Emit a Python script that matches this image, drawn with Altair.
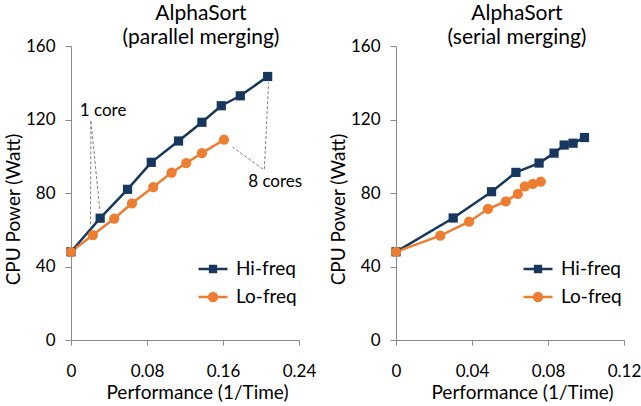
import altair as alt
import pandas as pd

# ---------------- data ----------------
series = ["Hi-freq", "Lo-freq"]
colors = ["#17375E", "#ED7D31"]

par_hi_x = [0, 0.0307, 0.0595, 0.0845, 0.1132, 0.1378, 0.1582, 0.1782, 0.2070]
par_hi_y = [48, 66.3, 82.0, 96.7, 108.3, 118.5, 127.5, 132.9, 143.4]
par_lo_x = [0, 0.0230, 0.0455, 0.0642, 0.0866, 0.1059, 0.1213, 0.1378, 0.1610]
par_lo_y = [48, 57.1, 66.1, 74.4, 83.2, 91.1, 96.3, 101.7, 109.0]

ser_hi_x = [0, 0.0301, 0.0503, 0.0631, 0.0753, 0.0832, 0.0885, 0.0932, 0.0992]
ser_hi_y = [48, 66.4, 80.7, 91.2, 96.3, 101.7, 106.1, 107.1, 110.2]
ser_lo_x = [0, 0.0233, 0.0385, 0.0484, 0.0578, 0.0641, 0.0678, 0.0720, 0.0762]
ser_lo_y = [48, 56.8, 64.4, 71.3, 75.5, 79.5, 83.6, 84.9, 86.2]

y_ticks = [0, 40, 80, 120, 160]
par_x_ticks = [0, 0.08, 0.16, 0.24]
ser_x_ticks = [0, 0.04, 0.08, 0.12]

# annotation leader lines (parallel panel), data units
ann_x = [0.0210, 0.0210, 0.2035, 0.2020]
ann_y = [119.0, 119.0, 93.0, 93.0]
ann_x2 = [0.0305, 0.0205, 0.2080, 0.1700]
ann_y2 = [70.0, 62.0, 140.0, 105.0]
ann_text = ["1 core", "8 cores"]
ann_text_x = [0.0092, 0.1865]
ann_text_y = [124.5, 86.0]

FONT = "Lato"
SQ_PATH = "M-1,0H1M-0.2,-0.2H0.2V0.2H-0.2Z"
CI_PATH = "M-1,0H1M-0.27,0A0.27,0.27,0,1,1,0.27,0A0.27,0.27,0,1,1,-0.27,0Z"


def panel(hx, hy, lx, ly, xmax, xticks, title, dx, annotate):
    df = pd.DataFrame({
        "x": hx + lx,
        "y": hy + ly,
        "series": [series[0]] * len(hx) + [series[1]] * len(lx),
        "order": list(range(len(hx))) + list(range(len(lx))),
    })
    xenc = alt.X("x:Q", scale=alt.Scale(domain=[0, xmax], nice=False, zero=True),
                 axis=alt.Axis(values=xticks, title="Performance (1/Time)",
                               labelExpr="datum.value == 0 ? '0' : format(datum.value, '.2f')",
                               labelFlush=False, tickSize=5, labelPadding=18,
                               titlePadding=4, titleX=126))
    yenc = alt.Y("y:Q", scale=alt.Scale(domain=[0, 160], nice=False),
                 axis=alt.Axis(values=y_ticks, title="CPU Power (Watt)",
                               tickSize=6, labelPadding=10, titlePadding=2,
                               titleY=163))
    base = alt.Chart(df)
    layers = []
    for s, c in zip(series, colors):
        layers.append(base.transform_filter(alt.datum.series == s).mark_line(
            strokeWidth=2.5, color=c).encode(x=xenc, y=yenc, order="order:Q"))
    layers.append(base.transform_filter(alt.datum.series == series[0]).mark_square(
        size=85, opacity=1, color=colors[0]).encode(x=xenc, y=yenc))
    layers.append(base.transform_filter(alt.datum.series == series[1]).mark_circle(
        size=105, opacity=1, color=colors[1]).encode(x=xenc, y=yenc))

    leg = alt.Legend(title=None, orient="none", legendX=126, legendY=207,
                     symbolSize=841, symbolStrokeWidth=2.5, symbolOpacity=1,
                     labelFont=FONT, labelFontSize=19, labelColor="black",
                     labelOffset=7, rowPadding=2, padding=0)
    # zero-size marks that only carry the legend
    layers.append(base.mark_point(filled=True, size=0).encode(
        x=xenc, y=yenc,
        fill=alt.Fill("series:N", scale=alt.Scale(domain=series, range=colors), legend=leg),
        stroke=alt.Stroke("series:N", scale=alt.Scale(domain=series, range=colors), legend=leg),
        shape=alt.Shape("series:N", scale=alt.Scale(domain=series, range=[SQ_PATH, CI_PATH]), legend=leg),
    ))
    if annotate:
        adf = pd.DataFrame({"x": ann_x, "y": ann_y, "x2": ann_x2, "y2": ann_y2})
        rules = alt.Chart(adf).mark_rule(color="#7F7F7F", strokeWidth=1,
                                         strokeDash=[3, 2]).encode(
            x="x:Q", y="y:Q", x2="x2:Q", y2="y2:Q")
        tdf = pd.DataFrame({"x": ann_text_x, "y": ann_text_y, "t": ann_text})
        texts = alt.Chart(tdf).mark_text(align="left", baseline="middle", font=FONT,
                                         fontSize=17, color="black").encode(
            x="x:Q", y="y:Q", text="t:N")
        layers = [rules] + layers + [texts]
    return alt.layer(*layers).properties(
        width=228, height=294,
        title=alt.TitleParams(title, font=FONT, fontSize=21, fontWeight="normal",
                              color="black", anchor="middle", dx=dx, offset=-11,
                              lineHeight=24),
    )


left = panel(par_hi_x, par_hi_y, par_lo_x, par_lo_y, 0.24, par_x_ticks,
             ["AlphaSort", "(parallel merging)"], 16, True)
right = panel(ser_hi_x, ser_hi_y, ser_lo_x, ser_lo_y, 0.12, ser_x_ticks,
              ["AlphaSort", "(serial merging)"], 7, False)

chart = alt.hconcat(left, right, spacing=13).resolve_scale(
    fill="independent", stroke="independent", shape="independent",
    x="independent").resolve_legend(
    fill="independent", stroke="independent", shape="independent").properties(
    padding={"left": 4, "top": 3, "right": 0, "bottom": 0},
    background="white",
).configure_view(stroke=None).configure_axis(
    grid=False, domainColor="#898989", tickColor="#898989", domainWidth=1,
    labelFont=FONT, labelFontSize=17, labelColor="black",
    titleFont=FONT, titleFontSize=19, titleFontWeight="normal", titleColor="black",
)

chart.save("out.html", embed_options={"renderer": "svg", "actions": False})
